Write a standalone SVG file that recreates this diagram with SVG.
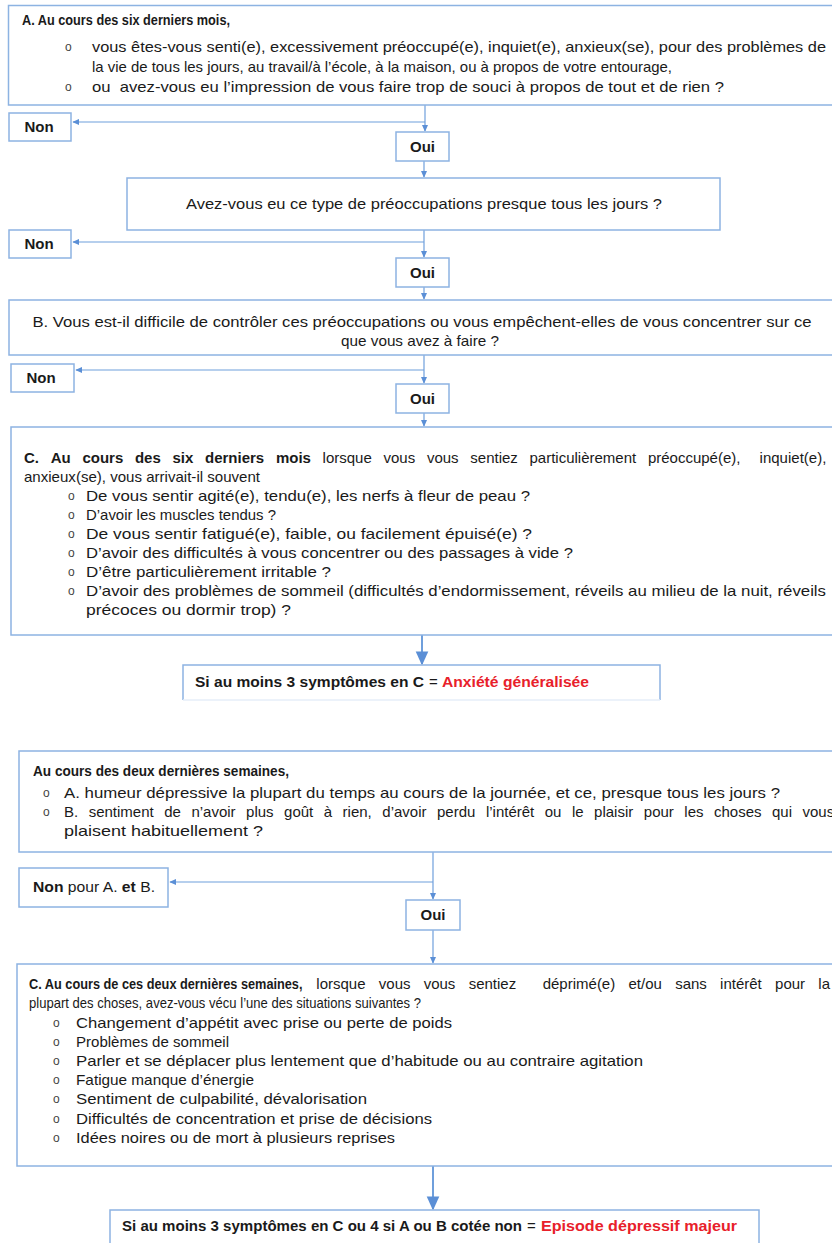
<svg xmlns="http://www.w3.org/2000/svg" width="832" height="1243" viewBox="0 0 832 1243">
<defs>
<marker id="sa" viewBox="0 0 10 10" refX="9" refY="5" markerWidth="7" markerHeight="7" markerUnits="userSpaceOnUse" orient="auto"><path d="M0,0.5 L10,5 L0,9.5 z" fill="#5b8fd6"/></marker>
<marker id="ba" viewBox="0 0 10 10" refX="9" refY="5" markerWidth="14" markerHeight="14" markerUnits="userSpaceOnUse" orient="auto"><path d="M0,0.5 L10,5 L0,9.5 z" fill="#5b8fd6"/></marker>
</defs>
<style>
.box{fill:#fff;stroke:#8db3e2;stroke-width:1.5}
.con{fill:none;stroke:#6f9fdc;stroke-width:1.2}
.big{stroke-width:2}
.t{font-family:"Liberation Sans",Arial,sans-serif;font-size:15px;fill:#1a1a1a}
.b{font-weight:bold}
.r{fill:#e8202a}
.m{text-anchor:middle}
.o{font-family:"Liberation Sans",Arial,sans-serif;font-size:12px;fill:#444}
</style>
<rect width="832" height="1243" fill="#fff"/>

<g id="connectors">
<path class="con" d="M425,105 V131" marker-end="url(#sa)"/>
<path class="con" d="M425,122 H73" marker-end="url(#sa)"/>
<path class="con" d="M424,161 V177" marker-end="url(#sa)"/>
<path class="con" d="M424,230 V257" marker-end="url(#sa)"/>
<path class="con" d="M424,242 H73" marker-end="url(#sa)"/>
<path class="con" d="M424,287 V299" marker-end="url(#sa)"/>
<path class="con" d="M424,355 V383" marker-end="url(#sa)"/>
<path class="con" d="M424,370 H76" marker-end="url(#sa)"/>
<path class="con" d="M424,413 V426" marker-end="url(#sa)"/>
<path class="con big" d="M422,635 V664" marker-end="url(#ba)"/>
<path class="con" d="M433,852 V899" marker-end="url(#sa)"/>
<path class="con" d="M433,882 H170" marker-end="url(#sa)"/>
<path class="con" d="M433,930 V963" marker-end="url(#sa)"/>
<path class="con big" d="M433,1166 V1209" marker-end="url(#ba)"/>
</g>

<g id="boxA">
<rect class="box" x="8.5" y="5.5" width="840" height="99.5"/>
<text class="t b" x="22" y="25" textLength="208" lengthAdjust="spacingAndGlyphs">A. Au cours des six derniers mois,</text>
<text class="o" x="65" y="51">o</text>
<text class="t" x="92" y="52" textLength="734" lengthAdjust="spacingAndGlyphs">vous êtes-vous senti(e), excessivement préoccupé(e), inquiet(e), anxieux(se), pour des problèmes de</text>
<text class="t" x="92" y="72" textLength="580" lengthAdjust="spacingAndGlyphs">la vie de tous les jours, au travail/à l’école, à la maison, ou à propos de votre entourage,</text>
<text class="o" x="65" y="91">o</text>
<text class="t" x="92" y="92" textLength="632" lengthAdjust="spacingAndGlyphs" xml:space="preserve">ou  avez-vous eu l’impression de vous faire trop de souci à propos de tout et de rien ?</text>
</g>

<g id="non1">
<rect class="box" x="9" y="113" width="62" height="28"/>
<text class="t b m" x="39" y="132">Non</text>
</g>
<g id="oui1">
<rect class="box" x="396" y="132" width="53" height="29"/>
<text class="t b m" x="422.5" y="152">Oui</text>
</g>

<g id="box2">
<rect class="box" x="127" y="178" width="593" height="52"/>
<text class="t m" x="424" y="209" textLength="476" lengthAdjust="spacingAndGlyphs">Avez-vous eu ce type de préoccupations presque tous les jours ?</text>
</g>

<g id="non2">
<rect class="box" x="9" y="230" width="62" height="28"/>
<text class="t b m" x="39" y="249">Non</text>
</g>
<g id="oui2">
<rect class="box" x="396" y="258" width="53" height="29"/>
<text class="t b m" x="422.5" y="278">Oui</text>
</g>

<g id="boxB">
<rect class="box" x="9" y="300" width="840" height="55"/>
<text class="t m" x="422" y="327" textLength="779" lengthAdjust="spacingAndGlyphs">B. Vous est-il difficile de contrôler ces préoccupations ou vous empêchent-elles de vous concentrer sur ce</text>
<text class="t m" x="420" y="346" textLength="158" lengthAdjust="spacingAndGlyphs">que vous avez à faire ?</text>
</g>

<g id="non3">
<rect class="box" x="11" y="364" width="63" height="28"/>
<text class="t b m" x="41" y="383">Non</text>
</g>
<g id="oui3">
<rect class="box" x="396" y="384" width="53" height="29"/>
<text class="t b m" x="422.5" y="404">Oui</text>
</g>

<g id="boxC">
<rect class="box" x="11" y="427" width="840" height="208"/>
<text class="t" y="463"><tspan class="b" x="24">C.</tspan><tspan class="b" x="50.7">Au</tspan><tspan class="b" x="82.4">cours</tspan><tspan class="b" x="134.9">des</tspan><tspan class="b" x="172.4">six</tspan><tspan class="b" x="205">derniers</tspan><tspan class="b" x="275.9">mois</tspan><tspan x="322.6">lorsque</tspan><tspan x="383.5">vous</tspan><tspan x="426.9">vous</tspan><tspan x="470.3">sentiez</tspan><tspan x="529.5">particulièrement</tspan><tspan x="647.9">préoccupé(e),</tspan><tspan x="759.6">inquiet(e),</tspan></text>
<text class="t" x="24" y="482" textLength="236" lengthAdjust="spacingAndGlyphs">anxieux(se), vous arrivait-il souvent</text>
<text class="o" x="68" y="500">o</text>
<text class="t" x="86" y="501" textLength="444" lengthAdjust="spacingAndGlyphs">De vous sentir agité(e), tendu(e), les nerfs à fleur de peau ?</text>
<text class="o" x="68" y="519">o</text>
<text class="t" x="86" y="520" textLength="190" lengthAdjust="spacingAndGlyphs">D’avoir les muscles tendus ?</text>
<text class="o" x="68" y="538">o</text>
<text class="t" x="86" y="539" textLength="446" lengthAdjust="spacingAndGlyphs">De vous sentir fatigué(e), faible, ou facilement épuisé(e) ?</text>
<text class="o" x="68" y="557">o</text>
<text class="t" x="86" y="558" textLength="487" lengthAdjust="spacingAndGlyphs">D’avoir des difficultés à vous concentrer ou des passages à vide ?</text>
<text class="o" x="68" y="576">o</text>
<text class="t" x="86" y="577" textLength="245" lengthAdjust="spacingAndGlyphs">D’être particulièrement irritable ?</text>
<text class="o" x="68" y="595">o</text>
<text class="t" x="86" y="596" textLength="740" lengthAdjust="spacingAndGlyphs">D’avoir des problèmes de sommeil (difficultés d’endormissement, réveils au milieu de la nuit, réveils</text>
<text class="t" x="86" y="615" textLength="205" lengthAdjust="spacingAndGlyphs">précoces ou dormir trop) ?</text>
</g>

<g id="result1">
<path d="M183,700 V665 H660 V700" fill="#fff" stroke="#8db3e2" stroke-width="1.5"/>
<path d="M183,700 H660" fill="none" stroke="#e6eef9" stroke-width="1.5"/>
<text class="t b" x="195" y="687" textLength="229" lengthAdjust="spacingAndGlyphs">Si au moins 3 symptômes en C</text>
<text class="t" x="429" y="687">=</text>
<text class="t b r" x="442" y="687" textLength="147" lengthAdjust="spacingAndGlyphs">Anxiété généralisée</text>
</g>

<g id="boxD">
<rect class="box" x="19" y="751" width="840" height="101"/>
<text class="t b" x="33" y="776" textLength="256" lengthAdjust="spacingAndGlyphs">Au cours des deux dernières semaines,</text>
<text class="o" x="43" y="797">o</text>
<text class="t" x="64" y="798" textLength="716" lengthAdjust="spacingAndGlyphs">A. humeur dépressive la plupart du temps au cours de la journée, et ce, presque tous les jours ?</text>
<text class="o" x="43" y="816">o</text>
<text class="t" y="817"><tspan x="64">B.</tspan><tspan x="88.7">sentiment</tspan><tspan x="164.2">de</tspan><tspan x="191.4">n’avoir</tspan><tspan x="246.1">plus</tspan><tspan x="284.1">goût</tspan><tspan x="323.8">à</tspan><tspan x="342.6">rien,</tspan><tspan x="382.3">d’avoir</tspan><tspan x="437">perdu</tspan><tspan x="485.9">l’intérêt</tspan><tspan x="544.7">ou</tspan><tspan x="571.9">le</tspan><tspan x="594.1">plaisir</tspan><tspan x="643.8">pour</tspan><tspan x="684.3">les</tspan><tspan x="714">choses</tspan><tspan x="772">qui</tspan><tspan x="802.5">vous</tspan></text>
<text class="t" x="64" y="836" textLength="199" lengthAdjust="spacingAndGlyphs">plaisent habituellement ?</text>
</g>

<g id="non4">
<rect class="box" x="19" y="868" width="149" height="39"/>
<text class="t" x="33" y="892" textLength="122" lengthAdjust="spacingAndGlyphs"><tspan class="b">Non</tspan> pour A. <tspan class="b">et</tspan> B.</text>
</g>
<g id="oui4">
<rect class="box" x="406" y="900" width="54" height="30"/>
<text class="t b m" x="433" y="920">Oui</text>
</g>

<g id="boxE">
<rect class="box" x="17" y="964" width="840" height="202"/>
<text class="t b" transform="translate(29,989) scale(0.85,1)" x="0" y="0">C. Au cours de ces deux dernières semaines,</text>
<text class="t" y="989"><tspan x="316.3">lorsque</tspan><tspan x="378.8">vous</tspan><tspan x="423.7">vous</tspan><tspan x="468.7">sentiez</tspan><tspan x="542.7">déprimé(e)</tspan><tspan x="628.5">et/ou</tspan><tspan x="675.2">sans</tspan><tspan x="720.1">intérêt</tspan><tspan x="775.1">pour</tspan><tspan x="818.3">la</tspan></text>
<text class="t" x="29" y="1008" textLength="392" lengthAdjust="spacingAndGlyphs">plupart des choses, avez-vous vécu l’une des situations suivantes ?</text>
<text class="o" x="53" y="1027">o</text>
<text class="t" x="76" y="1028" textLength="376" lengthAdjust="spacingAndGlyphs">Changement d’appétit avec prise ou perte de poids</text>
<text class="o" x="53" y="1046">o</text>
<text class="t" x="76" y="1047" textLength="153" lengthAdjust="spacingAndGlyphs">Problèmes de sommeil</text>
<text class="o" x="53" y="1065">o</text>
<text class="t" x="76" y="1066" textLength="567" lengthAdjust="spacingAndGlyphs">Parler et se déplacer plus lentement que d’habitude ou au contraire agitation</text>
<text class="o" x="53" y="1084">o</text>
<text class="t" x="76" y="1085" textLength="178" lengthAdjust="spacingAndGlyphs">Fatigue manque d’énergie</text>
<text class="o" x="53" y="1103">o</text>
<text class="t" x="76" y="1104" textLength="291" lengthAdjust="spacingAndGlyphs">Sentiment de culpabilité, dévalorisation</text>
<text class="o" x="53" y="1123">o</text>
<text class="t" x="76" y="1124" textLength="356" lengthAdjust="spacingAndGlyphs">Difficultés de concentration et prise de décisions</text>
<text class="o" x="53" y="1142">o</text>
<text class="t" x="76" y="1143" textLength="319" lengthAdjust="spacingAndGlyphs">Idées noires ou de mort à plusieurs reprises</text>
</g>

<g id="result2">
<rect class="box" x="110" y="1210" width="649" height="45"/>
<text class="t b" x="122" y="1231" textLength="400" lengthAdjust="spacingAndGlyphs">Si au moins 3 symptômes en C ou 4 si A ou B cotée non</text>
<text class="t" x="527" y="1231">=</text>
<text class="t b r" x="541" y="1231" textLength="196" lengthAdjust="spacingAndGlyphs">Episode dépressif majeur</text>
</g>
</svg>
